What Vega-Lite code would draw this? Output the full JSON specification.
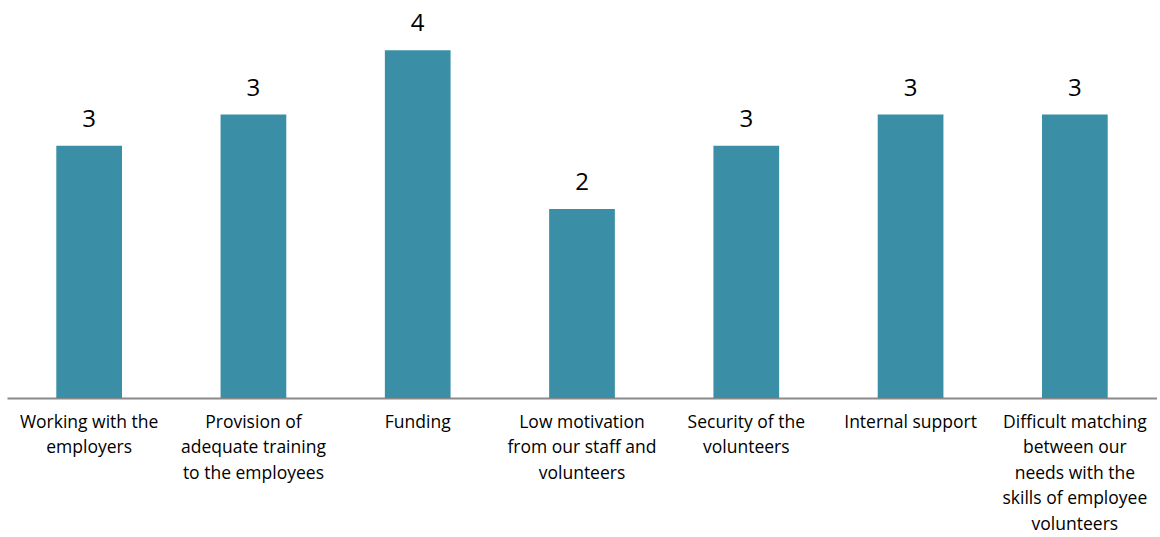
{
  "$schema": "https://vega.github.io/schema/vega-lite/v6.json",
  "width": 1150,
  "height": 378,
  "padding": {"left": 7, "top": 12, "right": 0, "bottom": 0},
  "background": "white",
  "config": {"view": {"stroke": null}, "font": "Open Sans"},
  "data": {"values": [
    {"category": "Working with the|employers", "value": 2.67},
    {"category": "Provision of|adequate training|to the employees", "value": 3.0},
    {"category": "Funding", "value": 3.68},
    {"category": "Low motivation|from our staff and|volunteers", "value": 2.0},
    {"category": "Security of the|volunteers", "value": 2.67},
    {"category": "Internal support", "value": 3.0},
    {"category": "Difficult matching|between our|needs with the|skills of employee|volunteers", "value": 3.0}
  ]},
  "encoding": {
    "x": {"field": "category", "type": "nominal", "sort": null,
      "scale": {"paddingInner": 0.6, "paddingOuter": 0.3},
      "axis": {"title": null, "labelAngle": 0, "labelExpr": "split(datum.label, '|')",
        "labelFontSize": 17.5, "labelColor": "#000000", "labelLineHeight": 25.5, "labelPadding": 15,
        "labelLimit": 300, "ticks": false, "domainColor": "#8a8a8a", "domainWidth": 2, "labelBaseline": "top"}},
    "y": {"field": "value", "type": "quantitative", "scale": {"domain": [0, 4], "nice": false}, "axis": null}
  },
  "layer": [
    {"mark": {"type": "bar", "color": "#3A8FA6"}},
    {"mark": {"type": "text", "baseline": "alphabetic", "dy": -19, "fontSize": 24, "color": "#000000"},
     "encoding": {"text": {"field": "value", "type": "quantitative", "format": ".0f"}}}
  ]
}
